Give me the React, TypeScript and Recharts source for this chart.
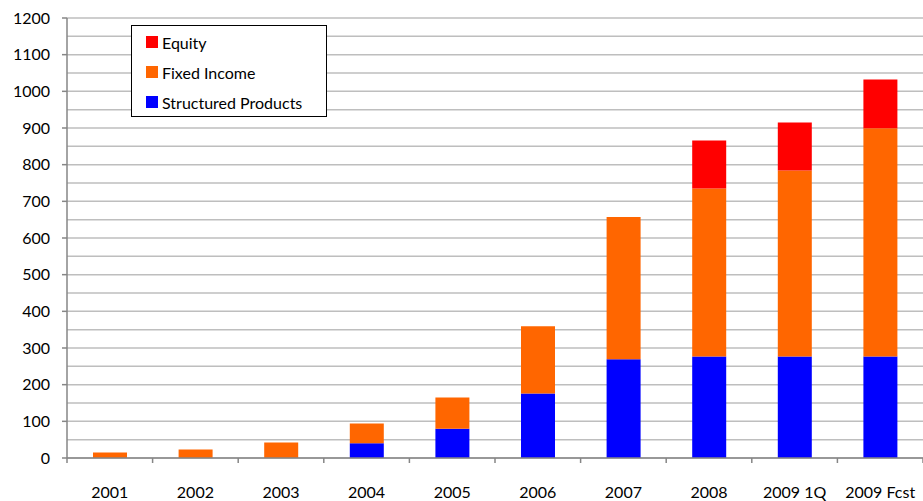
import React from 'react';
import { BarChart, Bar, XAxis, YAxis, CartesianGrid, Legend } from 'recharts';

const categories = ['2001', '2002', '2003', '2004', '2005', '2006', '2007', '2008', '2009 1Q', '2009 Fcst'];
const structuredProducts = [0, 0, 0, 40, 80, 176, 269, 277, 277, 277];
const fixedIncome = [15, 23, 42, 54, 85, 183, 388, 458, 507, 622];
const equity = [0, 0, 0, 0, 0, 0, 0, 131, 131, 133];

const yTicks = [0, 100, 200, 300, 400, 500, 600, 700, 800, 900, 1000, 1100, 1200];
const gridValues = [0, 50, 100, 150, 200, 250, 300, 350, 400, 450, 500, 550, 600, 650, 700, 750, 800, 850, 900, 950, 1000, 1050, 1100, 1150, 1200];

const data = categories.map((name, i) => ({
  name,
  structured: structuredProducts[i],
  fixed: fixedIncome[i],
  equity: equity[i],
}));

const WIDTH = 923;
const HEIGHT = 501;
const Y_AXIS_W = 67;
const HALF_BAND = (WIDTH - Y_AXIS_W) / categories.length / 2;
const FONT = 'Lato, "Open Sans", sans-serif';

const legendItems = [
  { label: 'Equity', color: '#FF0000' },
  { label: 'Fixed Income', color: '#FF6600' },
  { label: 'Structured Products', color: '#0000FF' },
];

const XTick = (props: any) => {
  const { x, y, payload, index } = props;
  return (
    <g>
      <line x1={x - HALF_BAND} y1={y} x2={x - HALF_BAND} y2={y + 5} stroke="#868686" strokeWidth={1.5} />
      {index === categories.length - 1 && (
        <line x1={x + HALF_BAND} y1={y} x2={x + HALF_BAND} y2={y + 5} stroke="#868686" strokeWidth={1.5} />
      )}
      <text x={x} y={y + 40} textAnchor="middle" fontSize={16} fill="#000" fontFamily={FONT}>
        {payload.value}
      </text>
    </g>
  );
};

const LegendBox = () => (
  <div
    style={{
      position: 'absolute',
      left: 131,
      top: 25,
      width: 194,
      height: 90,
      border: '1.5px solid #000',
      background: '#fff',
      fontFamily: FONT,
      fontSize: 16,
      color: '#000',
    }}
  >
    {legendItems.map((it, i) => (
      <div key={it.label} style={{ position: 'absolute', left: 14, top: 6 + i * 30, height: 20, display: 'flex', alignItems: 'center' }}>
        <span style={{ width: 12, height: 12, background: it.color, display: 'inline-block', marginRight: 4 }} />
        <span>{it.label}</span>
      </div>
    ))}
  </div>
);

export default function App() {
  return (
    <div style={{ position: 'relative', width: WIDTH, height: HEIGHT, background: '#fff' }}>
      <style>{'body{margin:0}'}</style>
      <BarChart
        width={WIDTH}
        height={HEIGHT}
        data={data}
        margin={{ top: 18, right: 0, left: 0, bottom: 0 }}
        barSize={34}
      >
        <CartesianGrid vertical={false} horizontalValues={gridValues} stroke="#BEBEBE" strokeWidth={1.5} />
        <XAxis
          dataKey="name"
          height={43}
          tickSize={0}
          tickMargin={0}
          tick={<XTick />}
          interval={0}
          axisLine={{ stroke: '#868686', strokeWidth: 1.5 }}
          tickLine={false}
        />
        <YAxis
          width={Y_AXIS_W}
          domain={[0, 1200]}
          ticks={yTicks}
          interval={0}
          tickSize={5}
          tickMargin={12}
          tick={{ fontSize: 16, fill: '#000', fontFamily: FONT }}
          axisLine={{ stroke: '#868686', strokeWidth: 1.5 }}
          tickLine={{ stroke: '#868686', strokeWidth: 1.5 }}
        />
        <Legend content={() => null} />
        <Bar dataKey="structured" stackId="a" fill="#0000FF" name="Structured Products" isAnimationActive={false} />
        <Bar dataKey="fixed" stackId="a" fill="#FF6600" name="Fixed Income" isAnimationActive={false} />
        <Bar dataKey="equity" stackId="a" fill="#FF0000" name="Equity" isAnimationActive={false} />
      </BarChart>
      <LegendBox />
    </div>
  );
}
